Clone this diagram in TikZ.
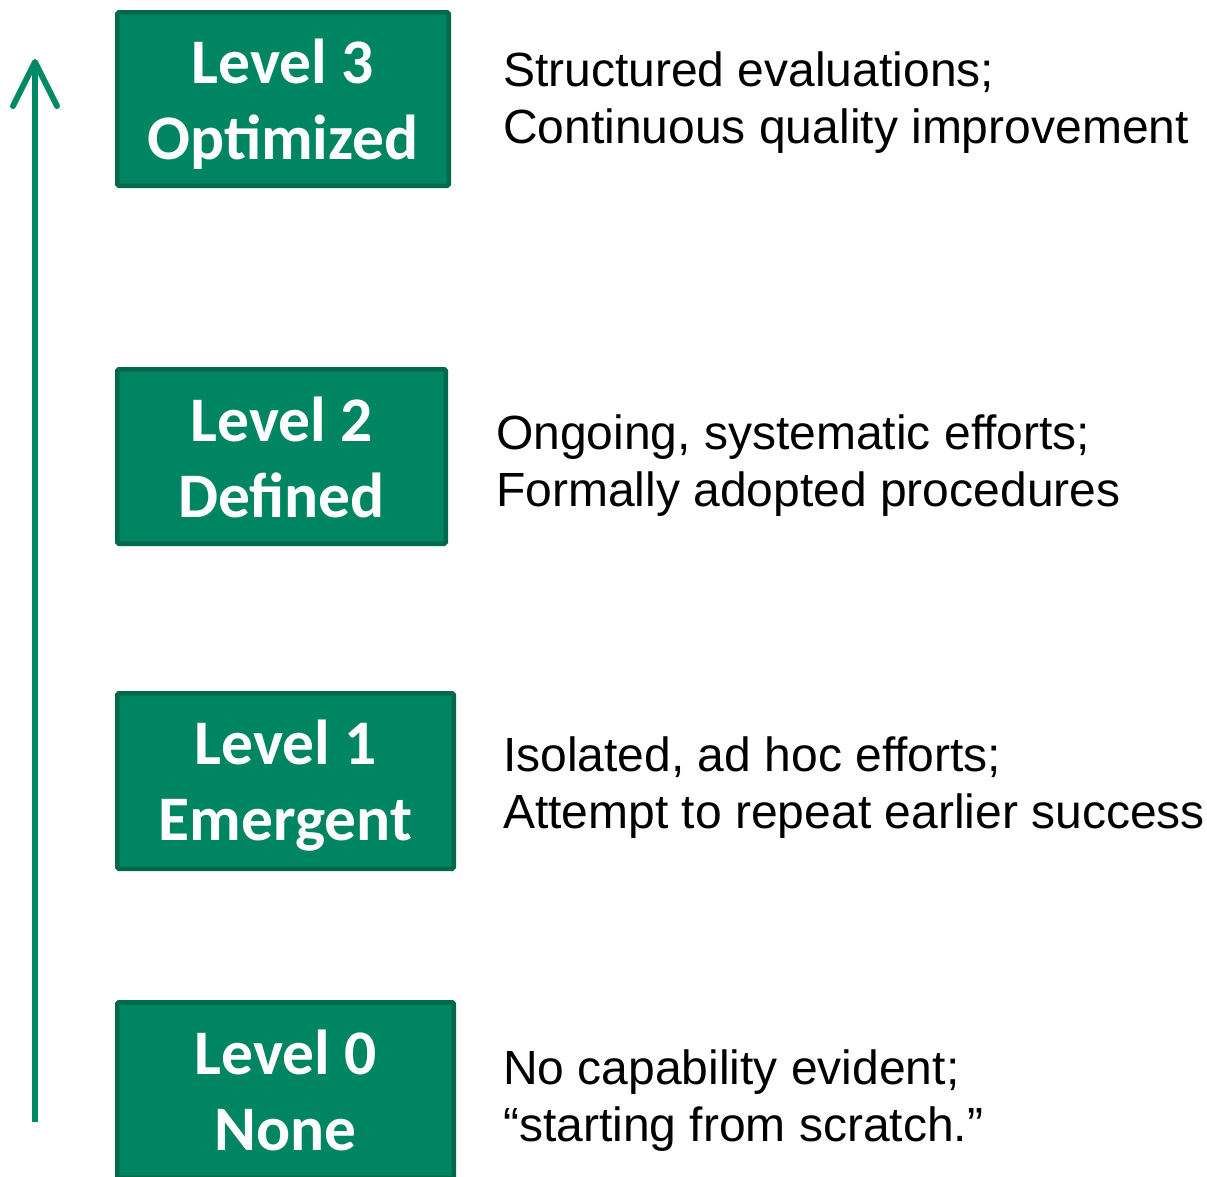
\documentclass[tikz,border=0pt]{standalone}
\usepackage{fontspec}
\setmainfont{Liberation Sans}
\newfontfamily\boxfont{Carlito}
\definecolor{boxfill}{RGB}{0,133,99}
\definecolor{boxedge}{RGB}{0,104,75}
\definecolor{arrowgreen}{RGB}{0,137,102}
\newcommand\bxs{\rule[-9pt]{0pt}{63pt}}
\newcommand\rts{\rule[-12pt]{0pt}{52pt}}
\tikzset{
  levelbox/.style={draw=boxedge, fill=boxfill, line width=4.5pt, rounded corners=1.5pt,
    text=white, align=center, inner sep=0pt,
    font=\boxfont\bfseries\fontsize{63.5}{76}\selectfont},
  desc/.style={anchor=west, align=left, inner sep=0pt, text=black,
    font=\fontsize{48}{57}\selectfont},
  arrowline/.style={draw=arrowgreen, line width=6pt}
}
\begin{document}
\begin{tikzpicture}[x=1pt,y=-1pt]
\useasboundingbox (0,0) rectangle (1207,1176);
% boxes
\node[levelbox, minimum width=331.5pt, minimum height=173.5pt] (b3) at (283,99)
  {\bxs Level 3\\\bxs Optimized};
\node[levelbox, minimum width=328.5pt, minimum height=174.5pt] (b2) at (281.5,456.5)
  {\bxs Level 2\\\bxs Defined};
\node[levelbox, minimum width=336.5pt, minimum height=175.5pt] (b1) at (285.5,781)
  {\bxs Level 1\\\bxs Emergent};
\node[levelbox, minimum width=336.5pt, minimum height=175.5pt] (b0) at (285.5,1090)
  {\bxs Level 0\\\bxs None};
% descriptions
\node[desc] (d3) at (503,101) {\rts Structured evaluations;\\\rts Continuous quality improvement};
\node[desc] (d2) at (496,463.5) {\rts Ongoing, systematic efforts;\\\rts Formally adopted procedures};
\node[desc] (d1) at (503,785.5) {\rts Isolated, ad hoc efforts;\\\rts Attempt to repeat earlier success};
\node[desc] (d0) at (503,1098.5) {\rts No capability evident;\\\rts “starting from scratch.”};
% arrow
\coordinate (abot) at (35,1122);
\coordinate (atip) at (35,62);
\coordinate (ashaft) at (35,66);
\coordinate (wl) at (13,106);
\coordinate (wr) at (57,106);
\draw[arrowline] (abot) -- (ashaft);
\draw[arrowline, line cap=round, line join=round] (wl) -- (atip) -- (wr);
\end{tikzpicture}
\end{document}
